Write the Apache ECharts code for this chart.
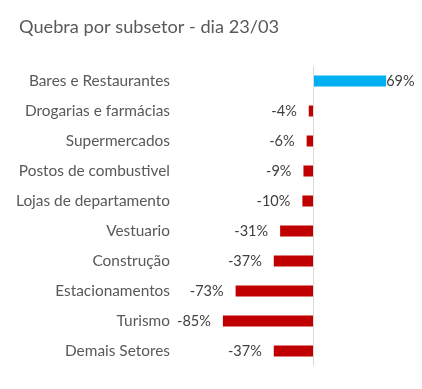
<!DOCTYPE html>
<html><head><meta charset="utf-8">
<script src="https://cdn.jsdelivr.net/npm/echarts@6/dist/echarts.min.js"></script>
<style>html,body{margin:0;padding:0;background:#fff}#c{width:422px;height:389px}</style>
</head><body><div id="c"></div>
<script>
const categories = ["Bares e Restaurantes","Drogarias e farmácias","Supermercados","Postos de combustivel","Lojas de departamento","Vestuario","Construção","Estacionamentos","Turismo","Demais Setores"];
const values = [69,-4,-6,-9,-10,-31,-37,-73,-85,-37];
const posColor = "#00B0F0";
const negColor = "#C00000";
const FONT = "Lato";

const data = values.map(v => ({
  value: v,
  itemStyle: {color: v >= 0 ? posColor : negColor},
  label: {position: v >= 0 ? 'right' : 'left', distance: v >= 0 ? 0 : 12}
}));

const chart = echarts.init(document.getElementById('c'));
chart.setOption({
  animation: false,
  title: {text: 'Quebra por subsetor - dia 23/03', left: 14, top: 13,
    textStyle: {fontFamily: FONT, fontSize: 18.2, fontWeight: 'normal', color: '#595959'}},
  grid: {left: 207, right: 3, top: 66, bottom: 23, containLabel: false},
  xAxis: {type: 'value', min: -100, max: 100, show: false},
  yAxis: {type: 'category', data: categories, inverse: true,
    axisLine: {show: false}, axisTick: {show: false},
    axisLabel: {margin: 37, fontFamily: FONT, fontSize: 15.4, color: '#595959'}},
  series: [{
    type: 'bar', data: data, barWidth: 11,
    label: {show: true, formatter: p => p.value + '%', fontFamily: FONT, fontSize: 14.5, color: '#404040'},
    markLine: {silent: true, symbol: 'none', label: {show: false},
      lineStyle: {color: '#d9d9d9', type: 'solid', width: 1},
      data: [{xAxis: 0}]}
  }]
});
</script></body></html>
